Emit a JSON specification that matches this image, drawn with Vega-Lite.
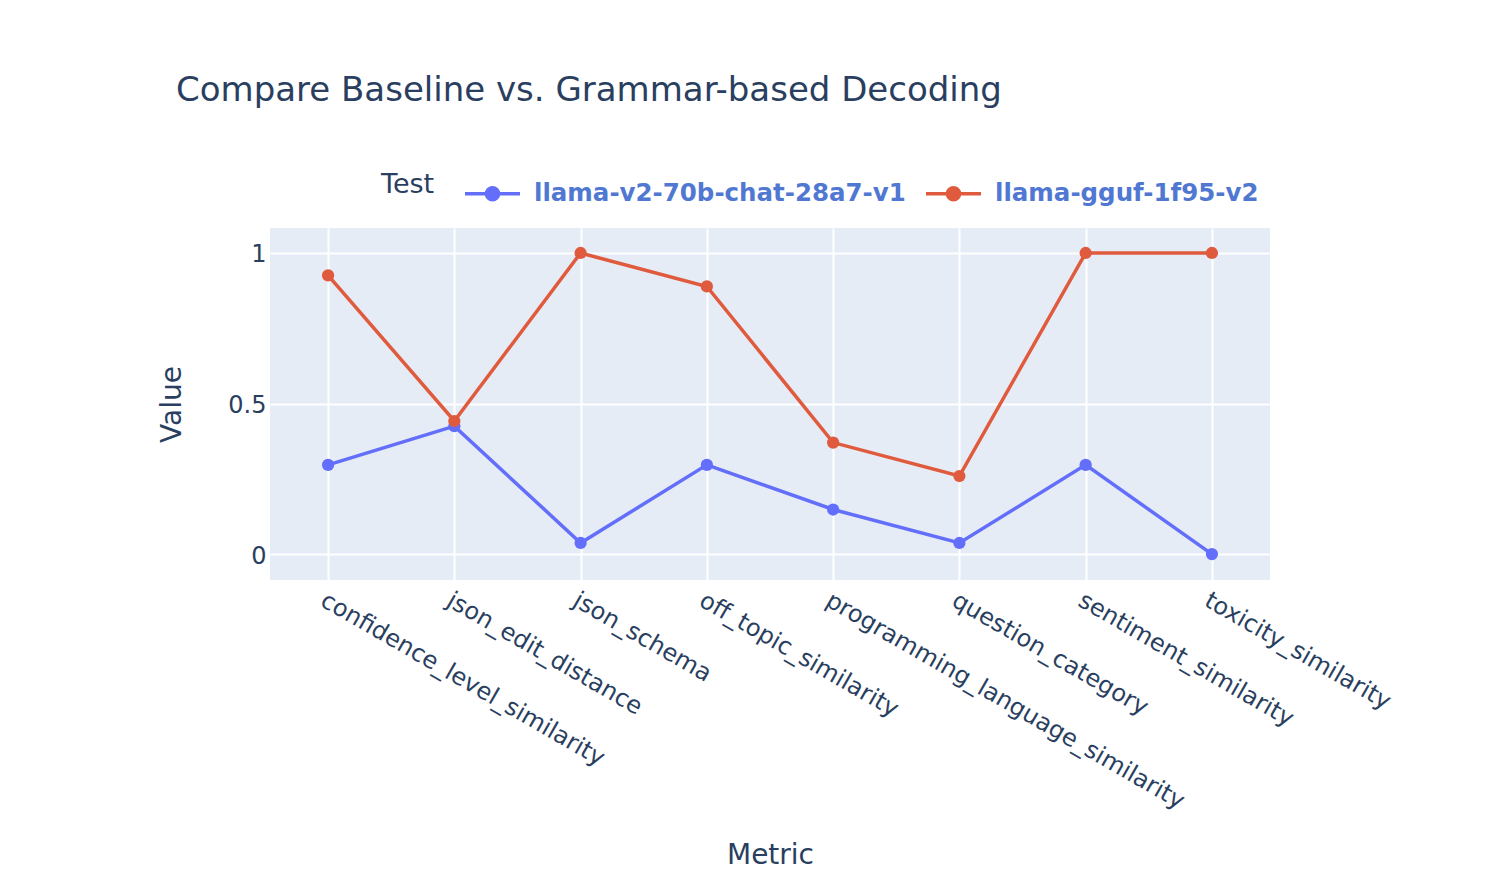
{
  "$schema": "https://vega.github.io/schema/vega-lite/v6.json",
  "autosize": {"type": "none"},
  "width": 1000,
  "height": 352,
  "padding": {"left": 270, "top": 228, "right": 240, "bottom": 294},
  "background": "white",
  "title": {
    "text": "Compare Baseline vs. Grammar-based Decoding",
    "anchor": "start",
    "frame": "group",
    "dx": -94,
    "offset": 29,
    "baseline": "alphabetic",
    "font": "DejaVu Sans",
    "fontSize": 34,
    "fontWeight": "normal",
    "color": "#2a3f5f"
  },
  "data": {
    "values": [
      {"Metric": "confidence_level_similarity", "Test": "llama-v2-70b-chat-28a7-v1", "Value": 0.2963},
      {"Metric": "json_edit_distance", "Test": "llama-v2-70b-chat-28a7-v1", "Value": 0.425},
      {"Metric": "json_schema", "Test": "llama-v2-70b-chat-28a7-v1", "Value": 0.037},
      {"Metric": "off_topic_similarity", "Test": "llama-v2-70b-chat-28a7-v1", "Value": 0.2963},
      {"Metric": "programming_language_similarity", "Test": "llama-v2-70b-chat-28a7-v1", "Value": 0.1481},
      {"Metric": "question_category", "Test": "llama-v2-70b-chat-28a7-v1", "Value": 0.037},
      {"Metric": "sentiment_similarity", "Test": "llama-v2-70b-chat-28a7-v1", "Value": 0.2963},
      {"Metric": "toxicity_similarity", "Test": "llama-v2-70b-chat-28a7-v1", "Value": 0},
      {"Metric": "confidence_level_similarity", "Test": "llama-gguf-1f95-v2", "Value": 0.9259},
      {"Metric": "json_edit_distance", "Test": "llama-gguf-1f95-v2", "Value": 0.442},
      {"Metric": "json_schema", "Test": "llama-gguf-1f95-v2", "Value": 1},
      {"Metric": "off_topic_similarity", "Test": "llama-gguf-1f95-v2", "Value": 0.8889},
      {"Metric": "programming_language_similarity", "Test": "llama-gguf-1f95-v2", "Value": 0.3704},
      {"Metric": "question_category", "Test": "llama-gguf-1f95-v2", "Value": 0.2593},
      {"Metric": "sentiment_similarity", "Test": "llama-gguf-1f95-v2", "Value": 1},
      {"Metric": "toxicity_similarity", "Test": "llama-gguf-1f95-v2", "Value": 1}
    ]
  },
  "encoding": {
    "x": {
      "field": "Metric",
      "type": "nominal",
      "sort": null,
      "scale": {"type": "point", "padding": 0.46},
      "axis": {
        "title": "Metric",
        "labelAngle": 30,
        "labelAlign": "left",
        "labelBaseline": "top",
        "labelPadding": 8,
        "labelFontSize": 24,
        "labelLimit": 0,
        "labelColor": "#2a3f5f",
        "labelFont": "DejaVu Sans",
        "titleFont": "DejaVu Sans",
        "titleFontSize": 28,
        "titleFontWeight": "normal",
        "titleColor": "#2a3f5f",
        "titleX": 500,
        "titleY": 283,
        "titleBaseline": "alphabetic",
        "titleAlign": "center",
        "ticks": false,
        "domain": false,
        "grid": true,
        "gridColor": "white",
        "gridWidth": 2,
        "labelOverlap": false
      }
    },
    "y": {
      "field": "Value",
      "type": "quantitative",
      "scale": {"domain": [-0.086, 1.083], "nice": false, "zero": false},
      "axis": {
        "title": "Value",
        "values": [0, 0.5, 1],
        "format": "~g",
        "labelFontSize": 24,
        "labelColor": "#2a3f5f",
        "labelFont": "DejaVu Sans",
        "labelPadding": 4,
        "labelBaseline": "middle",
        "labelOffset": 2,
        "titleFont": "DejaVu Sans",
        "titleFontSize": 28,
        "titleFontWeight": "normal",
        "titleColor": "#2a3f5f",
        "titleX": -98,
        "titleY": 176,
        "titleAngle": -90,
        "titleAlign": "center",
        "titleBaseline": "middle",
        "ticks": false,
        "domain": false,
        "grid": true,
        "gridColor": "white",
        "gridWidth": 2
      }
    },
    "color": {
      "field": "Test",
      "type": "nominal",
      "sort": ["llama-v2-70b-chat-28a7-v1", "llama-gguf-1f95-v2"],
      "scale": {"domain": ["llama-v2-70b-chat-28a7-v1", "llama-gguf-1f95-v2"], "range": ["#636efa", "#e05a3d"]},
      "legend": {
        "title": "Test",
        "orient": "none",
        "legendX": 111,
        "legendY": -64,
        "direction": "horizontal",
        "titleOrient": "left",
        "titleAnchor": "middle",
        "titleFont": "DejaVu Sans",
        "titleFontSize": 27,
        "titleFontWeight": "normal",
        "titleColor": "#2a3f5f",
        "titlePadding": 28,
        "titleBaseline": "middle",
        "labelFont": "DejaVu Sans",
        "labelFontSize": 24.5,
        "labelFontWeight": "bold",
        "labelColor": "#5078d2",
        "labelLimit": 0,
        "labelOffset": 12,
        "columnPadding": 13,
        "symbolType": "M-1,0H1M-0.22,0A0.22,0.22 0 1,1 0.22,0A0.22,0.22 0 1,1 -0.22,0Z",
        "symbolSize": 3025,
        "symbolStrokeWidth": 3.5,
        "symbolFillColor": null
      }
    }
  },
  "layer": [
    {"mark": {"type": "line", "strokeWidth": 3.5}},
    {"mark": {"type": "point", "filled": true, "size": 150, "opacity": 1}}
  ],
  "config": {
    "view": {"fill": "#E5ECF6", "stroke": null},
    "axis": {"zindex": 0}
  }
}
